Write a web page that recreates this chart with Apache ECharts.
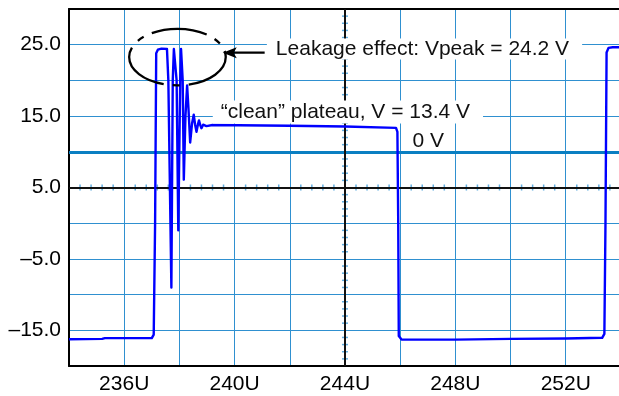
<!DOCTYPE html>
<html><head><meta charset="utf-8">
<script src="https://cdn.jsdelivr.net/npm/echarts@6/dist/echarts.min.js"></script>
<style>html,body{margin:0;padding:0;background:#fff}#c{width:619px;height:396px}</style>
</head><body><div id="c"></div>
<script>
// ---- data ----
const xTickValues = [236, 240, 244, 248, 252];
const xTickLabels = ['236U', '240U', '244U', '248U', '252U'];
const yTickValues = [25, 15, 5, -5, -15];
const yTickLabels = ['25.0', '15.0', '5.0', '\u20135.0', '\u201315.0'];

const traceTime = [234.0, 235.2, 235.3, 237.0, 237.07, 237.12, 237.16, 237.22, 237.35, 237.55, 237.6, 237.71, 237.76, 237.8, 237.87, 237.9, 237.96, 238.03, 238.06, 238.1, 238.12, 238.16, 238.22, 238.28, 238.33, 238.39, 238.46, 238.52, 238.57, 238.62, 238.67, 238.71, 238.76, 238.80, 238.86, 238.92, 238.98, 239.04, 239.2, 242.0, 244.0, 245.85, 245.9, 245.93, 245.95, 246.05, 248.0, 250.0, 252.0, 253.32, 253.4, 253.44, 253.48, 253.55, 253.7, 253.93];
const traceVolt = [-16.25, -16.2, -16.1, -16.1, -15.6, 0.0, 23.8, 24.3, 24.45, 24.4, 20.0, -9.0, 20.0, 24.4, 24.4, 20.0, -1.0, 20.0, 24.4, 24.2, 20.0, 6.1, 15.0, 19.3, 16.0, 11.3, 14.0, 15.2, 13.8, 12.8, 13.8, 14.4, 13.7, 13.3, 13.8, 14.0, 13.6, 13.6, 13.75, 13.65, 13.55, 13.35, 12.8, 0.0, -15.8, -16.3, -16.3, -16.2, -16.15, -16.05, -15.5, 0.0, 23.9, 24.55, 24.65, 24.65];

const zeroRefLevel = 10;      // the "0 V" reference line
const crossTime = 244;        // scope centre crosshair
const crossVolt = 5;
const leakText = 'Leakage effect: Vpeak = 24.2 V';
const plateauText = '\u201Cclean\u201D plateau, V = 13.4 V';
const zeroText = '0 V';

// ---- layout ----
const X_MIN = 234, X_MAX = 253.93, Y_MIN = -20, Y_MAX = 30;
const FONT = '"Liberation Sans", Arial, sans-serif';
const GRID = '#2f90d0';

const trace = traceTime.map((t, i) => [t, traceVolt[i]]);
// decorative minor ticks on the crosshair (scope graticule)
const hTicks = [], vTicks = [];
for (let k = 0; k <= 50; k++) { const v = X_MIN + k * 0.4; if (v < X_MAX && Math.abs(v / 2 - Math.round(v / 2)) > 0.01) hTicks.push([v, crossVolt]); }
for (let k = 0; k <= 50; k++) { const v = Y_MIN + k; if (v % 5 !== 0) vTicks.push([crossTime, v]); }

const chart = echarts.init(document.getElementById('c'), null, {renderer: 'canvas'});
chart.setOption({
  animation: false,
  backgroundColor: '#fff',
  grid: {left: 69, right: 0, top: 9, bottom: 30, containLabel: false},
  xAxis: [{
    type: 'value', min: X_MIN, max: X_MAX, interval: 2, position: 'bottom',
    axisLine: {show: true, onZero: false, lineStyle: {color: '#000', width: 2}},
    axisTick: {show: false},
    splitLine: {show: true, lineStyle: {color: GRID, width: 1}},
    axisLabel: {
      margin: 8, fontSize: 21, fontFamily: FONT, color: '#000', showMaxLabel: false,
      formatter: v => { const i = xTickValues.indexOf(Math.round(v * 100) / 100); return i >= 0 ? xTickLabels[i] : ''; }
    }
  }, {
    type: 'value', position: 'top', min: X_MIN, max: X_MAX, interval: 2,
    axisLine: {show: true, onZero: false, lineStyle: {color: '#000', width: 2}},
    axisTick: {show: false}, axisLabel: {show: false}, splitLine: {show: false}
  }],
  yAxis: [{
    type: 'value', min: Y_MIN, max: Y_MAX, interval: 5,
    axisLine: {show: true, onZero: false, lineStyle: {color: '#000', width: 2}},
    axisTick: {show: false},
    splitLine: {show: true, lineStyle: {color: GRID, width: 1}},
    axisLabel: {
      margin: 8, fontSize: 21, fontFamily: FONT, color: '#000',
      formatter: v => { const i = yTickValues.indexOf(Math.round(v)); return i >= 0 ? yTickLabels[i] : ''; }
    }
  }],
  series: [{
    type: 'line', data: [], z: 1, silent: true,
    markLine: {
      silent: true, symbol: 'none', label: {show: false}, animation: false,
      data: [
        {yAxis: zeroRefLevel, lineStyle: {color: '#0a7fc2', width: 3, type: 'solid'}},
        {xAxis: crossTime, lineStyle: {color: '#111', width: 2, type: 'solid'}},
        {yAxis: crossVolt, lineStyle: {color: '#111', width: 2, type: 'solid'}}
      ]
    }
  }, {
    type: 'scatter', data: hTicks, symbol: 'rect', symbolSize: [1.5, 6], z: 2, silent: true,
    itemStyle: {color: '#3b9ad8'}
  }, {
    type: 'scatter', data: vTicks, symbol: 'rect', symbolSize: [6, 1.5], z: 2, silent: true,
    itemStyle: {color: '#3b9ad8'}
  }, {
    type: 'line', data: trace, showSymbol: false, z: 5, silent: true,
    lineStyle: {color: '#0000ff', width: 2.4, join: 'round'}
  }]
});

function px(x, y) { return chart.convertToPixel({gridIndex: 0}, [x, y]); }
const ec = px(237.93, 23.27), ex = px(237.93 + 1.75, 23.27), ey = px(237.93, 23.27 + 3.96);
const tip = px(239.57, 23.88), tail = px(241.09, 23.88);
const leak = px(241.17, 24.41), plat = px(239.21, 15.56), zero = px(246.45, 11.54);
chart.setOption({
  graphic: [
    {type: 'ellipse', z: 100, silent: true,
     shape: {cx: ec[0], cy: ec[1], rx: ex[0] - ec[0], ry: ec[1] - ey[1]},
     style: {fill: null, stroke: '#000', lineWidth: 2.3, lineDash: [56, 9, 7, 9], lineDashOffset: 46}},
    {type: 'line', z: 100, silent: true,
     shape: {x1: tail[0], y1: tail[1], x2: tip[0] + 10, y2: tip[1]},
     style: {stroke: '#000', lineWidth: 2.2}},
    {type: 'polygon', z: 101, silent: true,
     shape: {points: [[tip[0], tip[1]], [tip[0] + 14, tip[1] - 5.5], [tip[0] + 11, tip[1]], [tip[0] + 14, tip[1] + 5.5]]},
     style: {fill: '#000'}},
    {type: 'text', z: 100, silent: true, x: leak[0], y: leak[1],
     style: {text: leakText, font: '21px ' + FONT, fill: '#111', backgroundColor: '#fff',
             padding: [0, 13, 0, 9], align: 'left', verticalAlign: 'middle'}},
    {type: 'text', z: 100, silent: true, x: plat[0], y: plat[1],
     style: {text: plateauText, font: '21px ' + FONT, fill: '#111', backgroundColor: '#fff',
             padding: [1, 13, 1, 8], align: 'left', verticalAlign: 'middle'}},
    {type: 'text', z: 100, silent: true, x: zero[0], y: zero[1],
     style: {text: zeroText, font: '21px ' + FONT, fill: '#111', align: 'left', verticalAlign: 'middle'}}
  ]
});
</script></body></html>
